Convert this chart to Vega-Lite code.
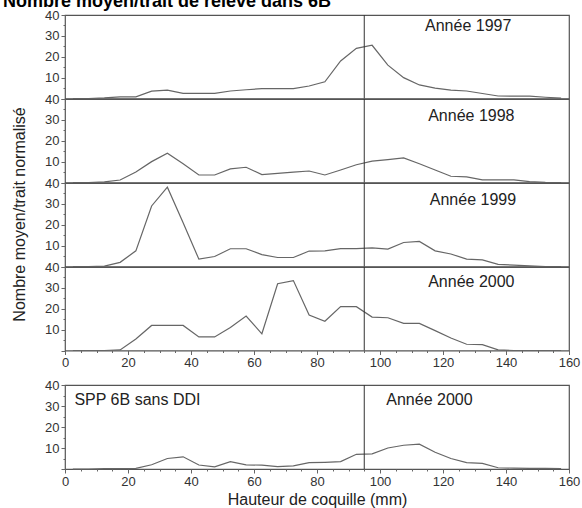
{
  "$schema": "https://vega.github.io/schema/vega-lite/v6.json",
  "padding": {"left": 2, "top": -7, "right": 4, "bottom": 2},
  "background": "white",
  "title": {"text": "Nombre moyen/trait de relevé dans 6B", "anchor": "start", "frame": "bounds", "fontSize": 18, "fontWeight": "bold", "color": "#000", "baseline": "bottom", "offset": -21, "dx": -8},
  "config": {
    "font": "Liberation Sans",
    "view": {"stroke": "#555", "strokeWidth": 1.2},
    "axis": {"labelFont": "Liberation Sans", "labelFontSize": 13, "labelColor": "#333", "domain": false, "grid": false, "tickColor": "#666", "labelFlush": false, "labelOverlap": false, "titleFont": "Liberation Sans", "titleFontWeight": "normal", "titleColor": "#222", "titleFontSize": 16},
    "text": {"font": "Liberation Sans", "fontSize": 16, "color": "#222"}
  },
  "datasets": {
    "curves": [
      {"s":"1997","h":2.5,"n":0},{"s":"1997","h":7.5,"n":0},{"s":"1997","h":12.5,"n":0.3},{"s":"1997","h":17.5,"n":0.8},{"s":"1997","h":22.5,"n":0.8},{"s":"1997","h":27.5,"n":3.5},{"s":"1997","h":32.5,"n":4},{"s":"1997","h":37.5,"n":2.5},{"s":"1997","h":42.5,"n":2.5},{"s":"1997","h":47.5,"n":2.5},{"s":"1997","h":52.5,"n":3.6},{"s":"1997","h":57.5,"n":4.2},{"s":"1997","h":62.5,"n":4.7},{"s":"1997","h":67.5,"n":4.7},{"s":"1997","h":72.5,"n":4.7},{"s":"1997","h":77.5,"n":6},{"s":"1997","h":82.5,"n":8},{"s":"1997","h":87.5,"n":18},{"s":"1997","h":92.5,"n":24},{"s":"1997","h":97.5,"n":25.5},{"s":"1997","h":102.5,"n":16},{"s":"1997","h":107.5,"n":10},{"s":"1997","h":112.5,"n":6.5},{"s":"1997","h":117.5,"n":5},{"s":"1997","h":122.5,"n":4},{"s":"1997","h":127.5,"n":3.6},{"s":"1997","h":132.5,"n":2.4},{"s":"1997","h":137.5,"n":1.2},{"s":"1997","h":142.5,"n":1.1},{"s":"1997","h":147.5,"n":1.1},{"s":"1997","h":152.5,"n":0.6},{"s":"1997","h":157.5,"n":0.2},
      {"s":"1998","h":2.5,"n":0},{"s":"1998","h":7.5,"n":0},{"s":"1998","h":12.5,"n":0.3},{"s":"1998","h":17.5,"n":1.2},{"s":"1998","h":22.5,"n":5},{"s":"1998","h":27.5,"n":10},{"s":"1998","h":32.5,"n":14},{"s":"1998","h":37.5,"n":9},{"s":"1998","h":42.5,"n":3.6},{"s":"1998","h":47.5,"n":3.6},{"s":"1998","h":52.5,"n":6.5},{"s":"1998","h":57.5,"n":7.3},{"s":"1998","h":62.5,"n":3.8},{"s":"1998","h":67.5,"n":4.4},{"s":"1998","h":72.5,"n":5},{"s":"1998","h":77.5,"n":5.5},{"s":"1998","h":82.5,"n":3.6},{"s":"1998","h":87.5,"n":6},{"s":"1998","h":92.5,"n":8.5},{"s":"1998","h":97.5,"n":10.2},{"s":"1998","h":102.5,"n":11},{"s":"1998","h":107.5,"n":11.8},{"s":"1998","h":112.5,"n":9},{"s":"1998","h":117.5,"n":6},{"s":"1998","h":122.5,"n":3},{"s":"1998","h":127.5,"n":2.7},{"s":"1998","h":132.5,"n":1.3},{"s":"1998","h":137.5,"n":1.3},{"s":"1998","h":142.5,"n":1.3},{"s":"1998","h":147.5,"n":0.4},{"s":"1998","h":152.5,"n":0.1},{"s":"1998","h":157.5,"n":0},
      {"s":"1999","h":2.5,"n":0},{"s":"1999","h":7.5,"n":0},{"s":"1999","h":12.5,"n":0.2},{"s":"1999","h":17.5,"n":2},{"s":"1999","h":22.5,"n":7.5},{"s":"1999","h":27.5,"n":29},{"s":"1999","h":32.5,"n":38},{"s":"1999","h":37.5,"n":21},{"s":"1999","h":42.5,"n":3.5},{"s":"1999","h":47.5,"n":4.8},{"s":"1999","h":52.5,"n":8.5},{"s":"1999","h":57.5,"n":8.5},{"s":"1999","h":62.5,"n":5.7},{"s":"1999","h":67.5,"n":4.3},{"s":"1999","h":72.5,"n":4.3},{"s":"1999","h":77.5,"n":7.4},{"s":"1999","h":82.5,"n":7.5},{"s":"1999","h":87.5,"n":8.6},{"s":"1999","h":92.5,"n":8.6},{"s":"1999","h":97.5,"n":8.9},{"s":"1999","h":102.5,"n":8.3},{"s":"1999","h":107.5,"n":11.5},{"s":"1999","h":112.5,"n":12},{"s":"1999","h":117.5,"n":7.5},{"s":"1999","h":122.5,"n":6},{"s":"1999","h":127.5,"n":3.5},{"s":"1999","h":132.5,"n":3.2},{"s":"1999","h":137.5,"n":1},{"s":"1999","h":142.5,"n":0.7},{"s":"1999","h":147.5,"n":0.3},{"s":"1999","h":152.5,"n":0},{"s":"1999","h":157.5,"n":0},
      {"s":"2000","h":2.5,"n":0},{"s":"2000","h":7.5,"n":0},{"s":"2000","h":12.5,"n":0},{"s":"2000","h":17.5,"n":0.3},{"s":"2000","h":22.5,"n":5.5},{"s":"2000","h":27.5,"n":12},{"s":"2000","h":32.5,"n":12},{"s":"2000","h":37.5,"n":12},{"s":"2000","h":42.5,"n":6.5},{"s":"2000","h":47.5,"n":6.5},{"s":"2000","h":52.5,"n":11},{"s":"2000","h":57.5,"n":16.5},{"s":"2000","h":62.5,"n":8},{"s":"2000","h":67.5,"n":32},{"s":"2000","h":72.5,"n":33.5},{"s":"2000","h":77.5,"n":17},{"s":"2000","h":82.5,"n":14},{"s":"2000","h":87.5,"n":21},{"s":"2000","h":92.5,"n":21},{"s":"2000","h":97.5,"n":16},{"s":"2000","h":102.5,"n":15.7},{"s":"2000","h":107.5,"n":13},{"s":"2000","h":112.5,"n":13},{"s":"2000","h":117.5,"n":9.5},{"s":"2000","h":122.5,"n":6},{"s":"2000","h":127.5,"n":3},{"s":"2000","h":132.5,"n":2.8},{"s":"2000","h":137.5,"n":0.3},{"s":"2000","h":142.5,"n":0},{"s":"2000","h":147.5,"n":0},{"s":"2000","h":152.5,"n":0},{"s":"2000","h":157.5,"n":0},
      {"s":"SPP","h":2.5,"n":0},{"s":"SPP","h":7.5,"n":0},{"s":"SPP","h":12.5,"n":0.2},{"s":"SPP","h":17.5,"n":0.2},{"s":"SPP","h":22.5,"n":0.3},{"s":"SPP","h":27.5,"n":2},{"s":"SPP","h":32.5,"n":5},{"s":"SPP","h":37.5,"n":5.8},{"s":"SPP","h":42.5,"n":1.9},{"s":"SPP","h":47.5,"n":1},{"s":"SPP","h":52.5,"n":3.5},{"s":"SPP","h":57.5,"n":2},{"s":"SPP","h":62.5,"n":1.8},{"s":"SPP","h":67.5,"n":1.1},{"s":"SPP","h":72.5,"n":1.5},{"s":"SPP","h":77.5,"n":3},{"s":"SPP","h":82.5,"n":3.2},{"s":"SPP","h":87.5,"n":3.5},{"s":"SPP","h":92.5,"n":7},{"s":"SPP","h":97.5,"n":7.2},{"s":"SPP","h":102.5,"n":10},{"s":"SPP","h":107.5,"n":11.3},{"s":"SPP","h":112.5,"n":11.8},{"s":"SPP","h":117.5,"n":8},{"s":"SPP","h":122.5,"n":5},{"s":"SPP","h":127.5,"n":3},{"s":"SPP","h":132.5,"n":2.7},{"s":"SPP","h":137.5,"n":0.6},{"s":"SPP","h":142.5,"n":0.4},{"s":"SPP","h":147.5,"n":0.3},{"s":"SPP","h":152.5,"n":0.3},{"s":"SPP","h":157.5,"n":0.2}
    ],
    "ref": [{"h": 95}],
    "labels": [
      {"s": "1997", "t": "Année 1997"},
      {"s": "1998", "t": "Année 1998"},
      {"s": "1999", "t": "Année 1999"},
      {"s": "2000", "t": "Année 2000"},
      {"s": "SPP", "t": "Année 2000"},
      {"s": "SPPL", "t": "SPP 6B sans DDI"}
    ]
  },
  "spacing": 7,
  "vconcat": [
    {
      "spacing": 0,
      "bounds": "flush",
      "vconcat": [
        {
          "width": 504, "height": 83.5,
          "layer": [
            {"data": {"name": "curves"}, "transform": [{"filter": "datum.s == '1997'"}], "mark": {"type": "line", "color": "#666", "strokeWidth": 1.2},
             "encoding": {"x": {"field": "h", "type": "quantitative", "scale": {"domain": [0, 160]}, "axis": null},
                          "y": {"field": "n", "type": "quantitative", "scale": {"domain": [0, 40]}, "axis": {"title": null, "labelOverlap": false, "values": [0,5,10,15,20,25,30,35,40], "labelExpr": "datum.value % 10 === 0 && datum.value > 0 ? datum.label : ''", "tickSize": {"condition": {"test": "datum.value % 10 === 0", "value": 4}, "value": 2}}}}},
            {"data": {"name": "ref"}, "mark": {"type": "rule", "color": "#333", "strokeWidth": 1}, "encoding": {"x": {"field": "h", "type": "quantitative", "axis": null}}},
            {"data": {"name": "labels"}, "transform": [{"filter": "datum.s == '1997'"}], "mark": {"type": "text", "align": "center", "baseline": "middle"},
             "encoding": {"x": {"datum": 128, "axis": null},
                          "y": {"datum": 34.8, "axis": {"title": null, "labelOverlap": false, "values": [0,5,10,15,20,25,30,35,40], "labelExpr": "datum.value % 10 === 0 && datum.value > 0 ? datum.label : ''", "tickSize": {"condition": {"test": "datum.value % 10 === 0", "value": 4}, "value": 2}}},
                          "text": {"field": "t"}}}
          ]
        },
        {
          "width": 504, "height": 83.5,
          "layer": [
            {"data": {"name": "curves"}, "transform": [{"filter": "datum.s == '1998'"}], "mark": {"type": "line", "color": "#666", "strokeWidth": 1.2},
             "encoding": {"x": {"field": "h", "type": "quantitative", "scale": {"domain": [0, 160]}, "axis": null},
                          "y": {"field": "n", "type": "quantitative", "scale": {"domain": [0, 40]}, "axis": {"title": null, "labelOverlap": false, "values": [0,5,10,15,20,25,30,35,40], "labelExpr": "datum.value % 10 === 0 && datum.value > 0 ? datum.label : ''", "tickSize": {"condition": {"test": "datum.value % 10 === 0", "value": 4}, "value": 2}}}}},
            {"data": {"name": "ref"}, "mark": {"type": "rule", "color": "#333", "strokeWidth": 1}, "encoding": {"x": {"field": "h", "type": "quantitative", "axis": null}}},
            {"data": {"name": "labels"}, "transform": [{"filter": "datum.s == '1998'"}], "mark": {"type": "text", "align": "center", "baseline": "middle"},
             "encoding": {"x": {"datum": 129, "axis": null},
                          "y": {"datum": 32, "axis": {"title": null, "labelOverlap": false, "values": [0,5,10,15,20,25,30,35,40], "labelExpr": "datum.value % 10 === 0 && datum.value > 0 ? datum.label : ''", "tickSize": {"condition": {"test": "datum.value % 10 === 0", "value": 4}, "value": 2}}},
                          "text": {"field": "t"}}}
          ]
        },
        {
          "width": 504, "height": 83.5,
          "layer": [
            {"data": {"name": "curves"}, "transform": [{"filter": "datum.s == '1999'"}], "mark": {"type": "line", "color": "#666", "strokeWidth": 1.2},
             "encoding": {"x": {"field": "h", "type": "quantitative", "scale": {"domain": [0, 160]}, "axis": null},
                          "y": {"field": "n", "type": "quantitative", "scale": {"domain": [0, 40]}, "axis": {"title": "Nombre moyen/trait normalisé", "titleY": 31, "titlePadding": 17, "labelOverlap": false, "values": [0,5,10,15,20,25,30,35,40], "labelExpr": "datum.value % 10 === 0 && datum.value > 0 ? datum.label : ''", "tickSize": {"condition": {"test": "datum.value % 10 === 0", "value": 4}, "value": 2}}}}},
            {"data": {"name": "ref"}, "mark": {"type": "rule", "color": "#333", "strokeWidth": 1}, "encoding": {"x": {"field": "h", "type": "quantitative", "axis": null}}},
            {"data": {"name": "labels"}, "transform": [{"filter": "datum.s == '1999'"}], "mark": {"type": "text", "align": "center", "baseline": "middle"},
             "encoding": {"x": {"datum": 129.5, "axis": null},
                          "y": {"datum": 32, "axis": {"title": "Nombre moyen/trait normalisé", "titleY": 31, "titlePadding": 17, "labelOverlap": false, "values": [0,5,10,15,20,25,30,35,40], "labelExpr": "datum.value % 10 === 0 && datum.value > 0 ? datum.label : ''", "tickSize": {"condition": {"test": "datum.value % 10 === 0", "value": 4}, "value": 2}}},
                          "text": {"field": "t"}}}
          ]
        },
        {
          "width": 504, "height": 83.5,
          "layer": [
            {"data": {"name": "curves"}, "transform": [{"filter": "datum.s == '2000'"}], "mark": {"type": "line", "color": "#666", "strokeWidth": 1.2},
             "encoding": {"x": {"field": "h", "type": "quantitative", "scale": {"domain": [0, 160]}, "axis": {"title": null, "labelOverlap": false, "values": [0,5,10,15,20,25,30,35,40,45,50,55,60,65,70,75,80,85,90,95,100,105,110,115,120,125,130,135,140,145,150,155,160], "labelExpr": "datum.value % 20 === 0 ? datum.label : ''", "tickSize": {"condition": {"test": "datum.value % 20 === 0", "value": 4}, "value": 2}}},
                          "y": {"field": "n", "type": "quantitative", "scale": {"domain": [0, 40]}, "axis": {"title": null, "labelOverlap": false, "values": [0,5,10,15,20,25,30,35,40], "labelExpr": "datum.value % 10 === 0 && datum.value > 0 ? datum.label : ''", "tickSize": {"condition": {"test": "datum.value % 10 === 0", "value": 4}, "value": 2}}}}},
            {"data": {"name": "ref"}, "mark": {"type": "rule", "color": "#333", "strokeWidth": 1},
             "encoding": {"x": {"field": "h", "type": "quantitative", "axis": {"title": null, "labelOverlap": false, "values": [0,5,10,15,20,25,30,35,40,45,50,55,60,65,70,75,80,85,90,95,100,105,110,115,120,125,130,135,140,145,150,155,160], "labelExpr": "datum.value % 20 === 0 ? datum.label : ''", "tickSize": {"condition": {"test": "datum.value % 20 === 0", "value": 4}, "value": 2}}}}},
            {"data": {"name": "labels"}, "transform": [{"filter": "datum.s == '2000'"}], "mark": {"type": "text", "align": "center", "baseline": "middle"},
             "encoding": {"x": {"datum": 129, "axis": {"title": null, "labelOverlap": false, "values": [0,5,10,15,20,25,30,35,40,45,50,55,60,65,70,75,80,85,90,95,100,105,110,115,120,125,130,135,140,145,150,155,160], "labelExpr": "datum.value % 20 === 0 ? datum.label : ''", "tickSize": {"condition": {"test": "datum.value % 20 === 0", "value": 4}, "value": 2}}},
                          "y": {"datum": 32.7, "axis": {"title": null, "labelOverlap": false, "values": [0,5,10,15,20,25,30,35,40], "labelExpr": "datum.value % 10 === 0 && datum.value > 0 ? datum.label : ''", "tickSize": {"condition": {"test": "datum.value % 10 === 0", "value": 4}, "value": 2}}},
                          "text": {"field": "t"}}}
          ]
        }
      ]
    },
    {
      "width": 504, "height": 84,
      "layer": [
        {"data": {"name": "curves"}, "transform": [{"filter": "datum.s == 'SPP'"}], "mark": {"type": "line", "color": "#666", "strokeWidth": 1.2},
         "encoding": {"x": {"field": "h", "type": "quantitative", "scale": {"domain": [0, 160]}, "axis": {"title": "Hauteur de coquille (mm)", "titlePadding": 3, "labelOverlap": false, "values": [0,5,10,15,20,25,30,35,40,45,50,55,60,65,70,75,80,85,90,95,100,105,110,115,120,125,130,135,140,145,150,155,160], "labelExpr": "datum.value % 20 === 0 ? datum.label : ''", "tickSize": {"condition": {"test": "datum.value % 20 === 0", "value": 4}, "value": 2}}},
                      "y": {"field": "n", "type": "quantitative", "scale": {"domain": [0, 40]}, "axis": {"title": " ", "titlePadding": 17, "labelOverlap": false, "values": [0,5,10,15,20,25,30,35,40], "labelExpr": "datum.value % 10 === 0 && datum.value > 0 ? datum.label : ''", "tickSize": {"condition": {"test": "datum.value % 10 === 0", "value": 4}, "value": 2}}}}},
        {"data": {"name": "ref"}, "mark": {"type": "rule", "color": "#333", "strokeWidth": 1},
         "encoding": {"x": {"field": "h", "type": "quantitative", "axis": {"title": "Hauteur de coquille (mm)", "titlePadding": 3, "labelOverlap": false, "values": [0,5,10,15,20,25,30,35,40,45,50,55,60,65,70,75,80,85,90,95,100,105,110,115,120,125,130,135,140,145,150,155,160], "labelExpr": "datum.value % 20 === 0 ? datum.label : ''", "tickSize": {"condition": {"test": "datum.value % 20 === 0", "value": 4}, "value": 2}}}}},
        {"data": {"name": "labels"}, "transform": [{"filter": "datum.s == 'SPP'"}], "mark": {"type": "text", "align": "center", "baseline": "middle"},
         "encoding": {"x": {"datum": 115.7, "axis": {"title": "Hauteur de coquille (mm)", "titlePadding": 3, "labelOverlap": false, "values": [0,5,10,15,20,25,30,35,40,45,50,55,60,65,70,75,80,85,90,95,100,105,110,115,120,125,130,135,140,145,150,155,160], "labelExpr": "datum.value % 20 === 0 ? datum.label : ''", "tickSize": {"condition": {"test": "datum.value % 20 === 0", "value": 4}, "value": 2}}},
                      "y": {"datum": 33, "axis": {"title": " ", "titlePadding": 17, "labelOverlap": false, "values": [0,5,10,15,20,25,30,35,40], "labelExpr": "datum.value % 10 === 0 && datum.value > 0 ? datum.label : ''", "tickSize": {"condition": {"test": "datum.value % 10 === 0", "value": 4}, "value": 2}}},
                      "text": {"field": "t"}}},
        {"data": {"name": "labels"}, "transform": [{"filter": "datum.s == 'SPPL'"}], "mark": {"type": "text", "align": "left", "baseline": "middle"},
         "encoding": {"x": {"datum": 3, "axis": {"title": "Hauteur de coquille (mm)", "titlePadding": 3, "labelOverlap": false, "values": [0,5,10,15,20,25,30,35,40,45,50,55,60,65,70,75,80,85,90,95,100,105,110,115,120,125,130,135,140,145,150,155,160], "labelExpr": "datum.value % 20 === 0 ? datum.label : ''", "tickSize": {"condition": {"test": "datum.value % 20 === 0", "value": 4}, "value": 2}}},
                      "y": {"datum": 33, "axis": {"title": " ", "titlePadding": 17, "labelOverlap": false, "values": [0,5,10,15,20,25,30,35,40], "labelExpr": "datum.value % 10 === 0 && datum.value > 0 ? datum.label : ''", "tickSize": {"condition": {"test": "datum.value % 10 === 0", "value": 4}, "value": 2}}},
                      "text": {"field": "t"}}}
      ]
    }
  ]
}
